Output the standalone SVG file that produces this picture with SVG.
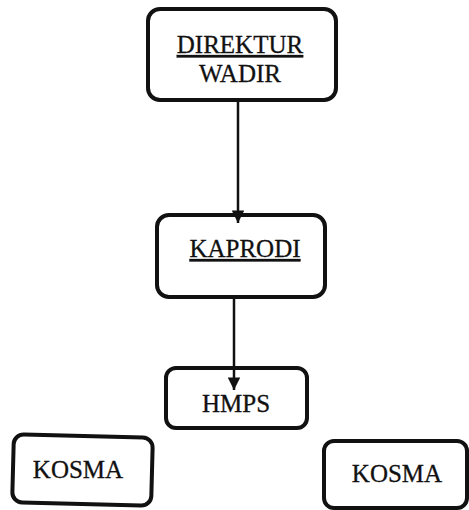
<svg xmlns="http://www.w3.org/2000/svg" width="469" height="510" viewBox="0 0 469 510">
<style>
.box{fill:#fff;stroke:#111;stroke-width:4;}
.t{font-family:"Liberation Serif","Times New Roman",serif;font-size:25px;fill:#111;stroke:#111;stroke-width:0.3;text-anchor:middle;}
.u{text-decoration:underline;}
.c{stroke:#111;stroke-width:2.5;fill:none;}
</style>
<defs>
<marker id="ah" viewBox="0 0 10 10" refX="10" refY="5" markerWidth="5.5" markerHeight="5" markerUnits="strokeWidth" orient="auto">
<path d="M0,0 L10,5 L0,10 Z" fill="#111"/>
</marker>
</defs>
<rect width="469" height="510" fill="#fff"/>
<g id="direktur">
<rect class="box" x="148" y="9" width="188" height="91" rx="12"/>
<text class="t u" x="240" y="53">DIREKTUR</text>
<text class="t" x="240" y="82">WADIR</text>
</g>
<g id="kaprodi">
<rect class="box" x="157" y="215" width="168" height="82" rx="12"/>
<text class="t u" x="245" y="257">KAPRODI</text>
</g>
<g id="hmps">
<rect class="box" x="166" y="368" width="141" height="60" rx="10"/>
<text class="t" x="236" y="412">HMPS</text>
</g>
<g id="kosma-left">
<rect class="box" x="13" y="436" width="139" height="68" rx="10" transform="rotate(1.5 82 470)"/>
<text class="t" x="78" y="478">KOSMA</text>
</g>
<g id="kosma-right">
<rect class="box" x="324" y="441" width="143" height="67" rx="10"/>
<text class="t" x="397" y="482">KOSMA</text>
</g>
<g id="connectors">
<line class="c" x1="238" y1="100" x2="238" y2="223" marker-end="url(#ah)"/>
<line class="c" x1="234" y1="297" x2="234" y2="390" marker-end="url(#ah)"/>
</g>
</svg>
